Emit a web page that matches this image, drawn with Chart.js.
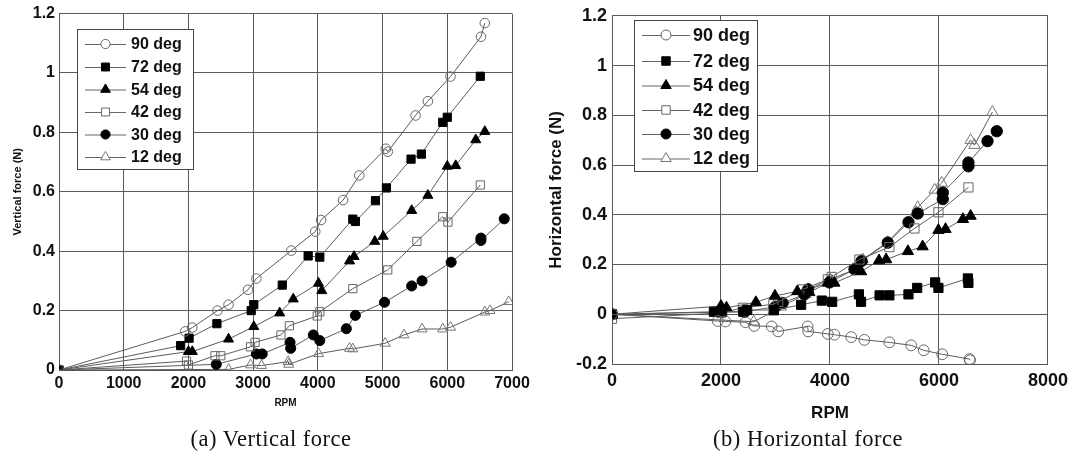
<!DOCTYPE html>
<html>
<head>
<meta charset="utf-8">
<script src="https://cdn.jsdelivr.net/npm/chart.js@4.4.1/dist/chart.umd.min.js"></script>
<style>
  html, body { margin: 0; padding: 0; background: #fff; }
  body { width: 1074px; height: 459px; position: relative; overflow: hidden; }
  canvas { position: absolute; left: 0; top: 0; }
  .cap { position: absolute; top: 426px; font-family: "Liberation Serif", serif; font-size: 22.5px; letter-spacing: 0.5px; color: #111; white-space: nowrap; transform: translateX(-50%); }
</style>
</head>
<body>
<canvas id="cv" width="1074" height="459"></canvas>
<canvas id="ch" width="1074" height="459"></canvas>
<div class="cap" style="left:271px">(a) Vertical force</div>
<div class="cap" style="left:808px">(b) Horizontal force</div>
<script>
// ---------- DATA ----------
const seriesNames = ['90 deg', '72 deg', '54 deg', '42 deg', '30 deg', '12 deg'];

// (a) Vertical force
const rpmV90 = [0, 1950, 2060, 2450, 2620, 2920, 3050, 3590, 3960, 4050, 4390, 4640, 5050, 5080, 5510, 5700, 6050, 6520, 6580];
const fV90   = [0, 0.13, 0.143, 0.2, 0.22, 0.27, 0.308, 0.402, 0.466, 0.505, 0.572, 0.655, 0.745, 0.735, 0.857, 0.905, 0.988, 1.122, 1.168];
const rpmV72 = [0, 1880, 2010, 2440, 2970, 3010, 3450, 3850, 4030, 4540, 4580, 4890, 5060, 5440, 5600, 5930, 6000, 6510];
const fV72   = [0, 0.082, 0.107, 0.156, 0.2, 0.22, 0.286, 0.384, 0.38, 0.508, 0.5, 0.57, 0.613, 0.71, 0.727, 0.834, 0.851, 0.989];
const rpmV54 = [0, 2000, 2060, 2620, 3010, 3410, 3620, 4010, 4060, 4490, 4560, 4880, 5010, 5450, 5700, 6000, 6130, 6440, 6580];
const fV54   = [0, 0.062, 0.062, 0.104, 0.146, 0.192, 0.239, 0.292, 0.267, 0.367, 0.382, 0.433, 0.45, 0.537, 0.588, 0.686, 0.688, 0.775, 0.803];
const rpmV42 = [0, 1970, 2000, 2410, 2500, 2960, 3030, 3430, 3560, 3990, 4030, 4540, 5080, 5530, 5930, 6010, 6510];
const fV42   = [0, 0.03, 0.017, 0.048, 0.048, 0.078, 0.093, 0.118, 0.149, 0.182, 0.196, 0.274, 0.337, 0.433, 0.516, 0.498, 0.623];
const rpmV30 = [0, 2430, 3050, 3140, 3570, 3580, 3930, 4030, 4440, 4580, 5030, 5450, 5610, 6060, 6520, 6520, 6880];
const fV30   = [0, 0.019, 0.054, 0.054, 0.093, 0.073, 0.118, 0.099, 0.139, 0.184, 0.228, 0.283, 0.3, 0.363, 0.444, 0.436, 0.509];
const rpmV12 = [0, 2620, 2960, 3130, 3540, 3550, 4010, 4490, 4540, 5040, 5330, 5610, 5930, 6050, 6580, 6660, 6950];
const fV12   = [0, 0.002, 0.017, 0.015, 0.028, 0.019, 0.055, 0.073, 0.071, 0.09, 0.118, 0.138, 0.138, 0.144, 0.195, 0.2, 0.23];

// (b) Horizontal force
const rpmH90 = [0, 1940, 2080, 2450, 2610, 2930, 3050, 3590, 3600, 3960, 4080, 4390, 4630, 5090, 5490, 5720, 6060, 6560, 6570];
const fH90   = [0, -0.027, -0.029, -0.032, -0.047, -0.049, -0.069, -0.049, -0.069, -0.079, -0.082, -0.092, -0.103, -0.113, -0.125, -0.145, -0.161, -0.18, -0.185];
const rpmH72 = [0, 1870, 2020, 2410, 2480, 2970, 3470, 3850, 4040, 4530, 4570, 4910, 5090, 5440, 5600, 5930, 5990, 6530, 6540];
const fH72   = [0, 0.01, 0.01, 0.01, 0.017, 0.017, 0.038, 0.055, 0.05, 0.08, 0.05, 0.076, 0.076, 0.08, 0.106, 0.128, 0.106, 0.144, 0.126];
const rpmH54 = [0, 2000, 2100, 2640, 2990, 3400, 3620, 3960, 4080, 4570, 4900, 5030, 5430, 5700, 5990, 6120, 6440, 6580];
const fH54   = [0, 0.033, 0.026, 0.048, 0.074, 0.092, 0.088, 0.126, 0.126, 0.172, 0.216, 0.22, 0.253, 0.272, 0.338, 0.342, 0.382, 0.395];
const rpmH42 = [0, 2000, 2400, 2960, 3050, 3500, 3960, 4030, 4540, 5090, 5550, 5990, 6540];
const fH42   = [-0.018, 0.005, 0.026, 0.04, 0.05, 0.1, 0.14, 0.15, 0.22, 0.27, 0.345, 0.41, 0.51];
const rpmH30 = [0, 2430, 3000, 3130, 3530, 3600, 3990, 4450, 4580, 5060, 5440, 5610, 6070, 6070, 6540, 6540, 6890, 7060];
const fH30   = [0, 0.01, 0.03, 0.045, 0.08, 0.1, 0.128, 0.181, 0.214, 0.288, 0.37, 0.405, 0.463, 0.489, 0.595, 0.61, 0.696, 0.736];
const rpmH12 = [0, 2600, 2950, 3100, 3550, 3600, 4000, 4460, 4600, 5060, 5580, 5610, 5920, 6050, 6580, 6650, 6980];
const fH12   = [0, -0.03, 0.01, 0.03, 0.08, 0.1, 0.14, 0.18, 0.22, 0.29, 0.41, 0.43, 0.5, 0.528, 0.7, 0.68, 0.813];

// tick labels
const vTickX = ['0', '1000', '2000', '3000', '4000', '5000', '6000', '7000'];
const vTickY = ['0', '0.2', '0.4', '0.6', '0.8', '1', '1.2'];
const hTickX = ['0', '2000', '4000', '6000', '8000'];
const hTickY = ['-0.2', '0', '0.2', '0.4', '0.6', '0.8', '1', '1.2'];

// ---------- STYLE ----------
const markerStyles = [
  { style: 'circle',   fill: 'rgba(0,0,0,0)', stroke: '#666' },
  { style: 'rect',     fill: '#000',          stroke: '#000' },
  { style: 'triangle', fill: '#000',          stroke: '#000' },
  { style: 'rect',     fill: 'rgba(0,0,0,0)', stroke: '#666' },
  { style: 'circle',   fill: '#000',          stroke: '#000' },
  { style: 'triangle', fill: 'rgba(0,0,0,0)', stroke: '#777' }
];

function pts(xs, ys) { return xs.map((x, i) => ({ x: x, y: ys[i] })); }

function makeDatasets(pairs, radii) {
  return pairs.map((p, i) => {
    const m = markerStyles[i];
    return {
      label: seriesNames[i],
      data: pts(p[0], p[1]),
      showLine: true,
      borderColor: '#5c5c5c',
      borderWidth: 1,
      pointStyle: m.style,
      pointRadius: radii[m.style] * (m.style === 'circle' && m.fill !== 'rgba(0,0,0,0)' ? 1.05 : 1),
      pointBorderColor: m.stroke,
      pointBackgroundColor: m.fill,
      pointBorderWidth: 1
    };
  });
}

function drawMarker(ctx, style, x, y, r, fill, stroke) {
  ctx.save();
  ctx.beginPath();
  if (style === 'circle') {
    ctx.arc(x, y, r, 0, Math.PI * 2);
  } else if (style === 'rect') {
    const s = Math.SQRT1_2 * r;
    ctx.rect(x - s, y - s, 2 * s, 2 * s);
  } else {
    const a = 2 * Math.PI / 3;
    ctx.moveTo(x, y - r);
    ctx.lineTo(x + Math.sin(a) * r, y - Math.cos(a) * r);
    ctx.lineTo(x + Math.sin(2 * a) * r, y - Math.cos(2 * a) * r);
    ctx.closePath();
  }
  ctx.fillStyle = fill; ctx.fill();
  ctx.strokeStyle = stroke; ctx.lineWidth = 1; ctx.stroke();
  ctx.restore();
}

function legendPlugin(cfg) {
  return {
    id: 'boxLegend',
    afterDatasetsDraw(chart) {
      const ctx = chart.ctx;
      ctx.save();
      ctx.fillStyle = '#fff';
      ctx.fillRect(cfg.x, cfg.y, cfg.w, cfg.h);
      ctx.strokeStyle = '#444';
      ctx.lineWidth = 1;
      ctx.strokeRect(cfg.x + 0.5, cfg.y + 0.5, cfg.w, cfg.h);
      ctx.font = 'bold ' + cfg.font + 'px "Liberation Sans", Arial, sans-serif';
      ctx.textBaseline = 'middle';
      ctx.textAlign = 'left';
      seriesNames.forEach((name, i) => {
        const yy = cfg.rows[i];
        const m = markerStyles[i];
        ctx.strokeStyle = '#666';
        ctx.beginPath();
        ctx.moveTo(cfg.lx0, yy + 0.5); ctx.lineTo(cfg.lx1, yy + 0.5);
        ctx.stroke();
        drawMarker(ctx, m.style, (cfg.lx0 + cfg.lx1) / 2, yy, cfg.r[m.style], m.fill === 'rgba(0,0,0,0)' ? '#fff' : m.fill, m.stroke);
        ctx.fillStyle = '#111';
        ctx.fillText(name, cfg.tx, yy + 1);
      });
      ctx.restore();
    }
  };
}

Chart.defaults.font.family = '"Liberation Sans", Arial, sans-serif';
Chart.defaults.color = '#111';

function makeChart(id, o) {
  return new Chart(document.getElementById(id), {
    type: 'scatter',
    data: { datasets: o.datasets },
    options: {
      responsive: false,
      animation: false,
      devicePixelRatio: 1,
      layout: { padding: o.padding },
      plugins: { legend: { display: false }, tooltip: { enabled: false } },
      scales: {
        x: {
          type: 'linear', min: o.xmin, max: o.xmax,
          afterFit: s => { s.height = o.xh; },
          afterBuildTicks: s => { s.ticks = o.xTicks.map(t => ({ value: Number(t) })); },
          ticks: { callback: (v, i) => o.xTicks[i], padding: o.xtpad, font: { size: o.tickFont, weight: 'bold' }, maxRotation: 0, autoSkip: false, color: '#111' },
          grid: { color: '#5a5a5a', lineWidth: 1, drawTicks: false },
          border: { color: '#555', width: 1 },
          title: { display: true, text: 'RPM', font: { size: o.xtitleFont, weight: 'bold' }, padding: { top: 0, bottom: o.xtitlePad }, color: '#111' }
        },
        y: {
          type: 'linear', min: o.ymin, max: o.ymax,
          afterFit: s => { s.width = o.yw; },
          afterBuildTicks: s => { s.ticks = o.yTicks.map(t => ({ value: Number(t) })); },
          ticks: { callback: (v, i) => o.yTicks[i], padding: o.ytpad, font: { size: o.tickFont, weight: 'bold' }, autoSkip: false, color: '#111' },
          grid: { color: '#5a5a5a', lineWidth: 1, drawTicks: false },
          border: { color: '#555', width: 1 },
          title: { display: true, text: o.ytitle, font: { size: o.ytitleFont, weight: 'bold' }, padding: { top: o.ytitlePad, bottom: 0 }, color: '#111' }
        }
      }
    },
    plugins: [legendPlugin(o.legend)]
  });
}

const vr = { circle: 4.8, rect: 5.8, triangle: 5.8 };
makeChart('cv', {
  datasets: makeDatasets([[rpmV90, fV90], [rpmV72, fV72], [rpmV54, fV54], [rpmV42, fV42], [rpmV30, fV30], [rpmV12, fV12]], vr),
  padding: { left: 0, top: 13, right: 562, bottom: 34 },
  xmin: 0, xmax: 7000, ymin: 0, ymax: 1.2,
  xTicks: vTickX, yTicks: vTickY,
  xh: 55, yw: 59, xtpad: 4, ytpad: 4, tickFont: 16,
  xtitleFont: 10, xtitlePad: 16,
  ytitle: 'Vertical force (N)', ytitleFont: 11, ytitlePad: 11,
  legend: { x: 77, y: 29, w: 116, h: 140, rows: [44, 67, 89.5, 112, 134.5, 157], lx0: 85, lx1: 126, tx: 131, font: 16, r: { circle: 4.6, rect: 5.6, triangle: 5.6 } }
});

const hr = { circle: 5.4, rect: 6.5, triangle: 6.5 };
makeChart('ch', {
  datasets: makeDatasets([[rpmH90, fH90], [rpmH72, fH72], [rpmH54, fH54], [rpmH42, fH42], [rpmH30, fH30], [rpmH12, fH12]], hr),
  padding: { left: 530, top: 9, right: 26, bottom: 34 },
  xmin: 0, xmax: 8000, ymin: -0.2, ymax: 1.2,
  xTicks: hTickX, yTicks: hTickY,
  xh: 61, yw: 82, xtpad: 6, ytpad: 5, tickFont: 18,
  xtitleFont: 17, xtitlePad: 1,
  ytitle: 'Horizontal force (N)', ytitleFont: 17, ytitlePad: 16,
  legend: { x: 634, y: 20, w: 123, h: 151, rows: [35, 61, 85.5, 110, 134, 158.5], lx0: 642, lx1: 690, tx: 693, font: 18, r: { circle: 5, rect: 6, triangle: 6 } }
});
</script>
</body>
</html>
